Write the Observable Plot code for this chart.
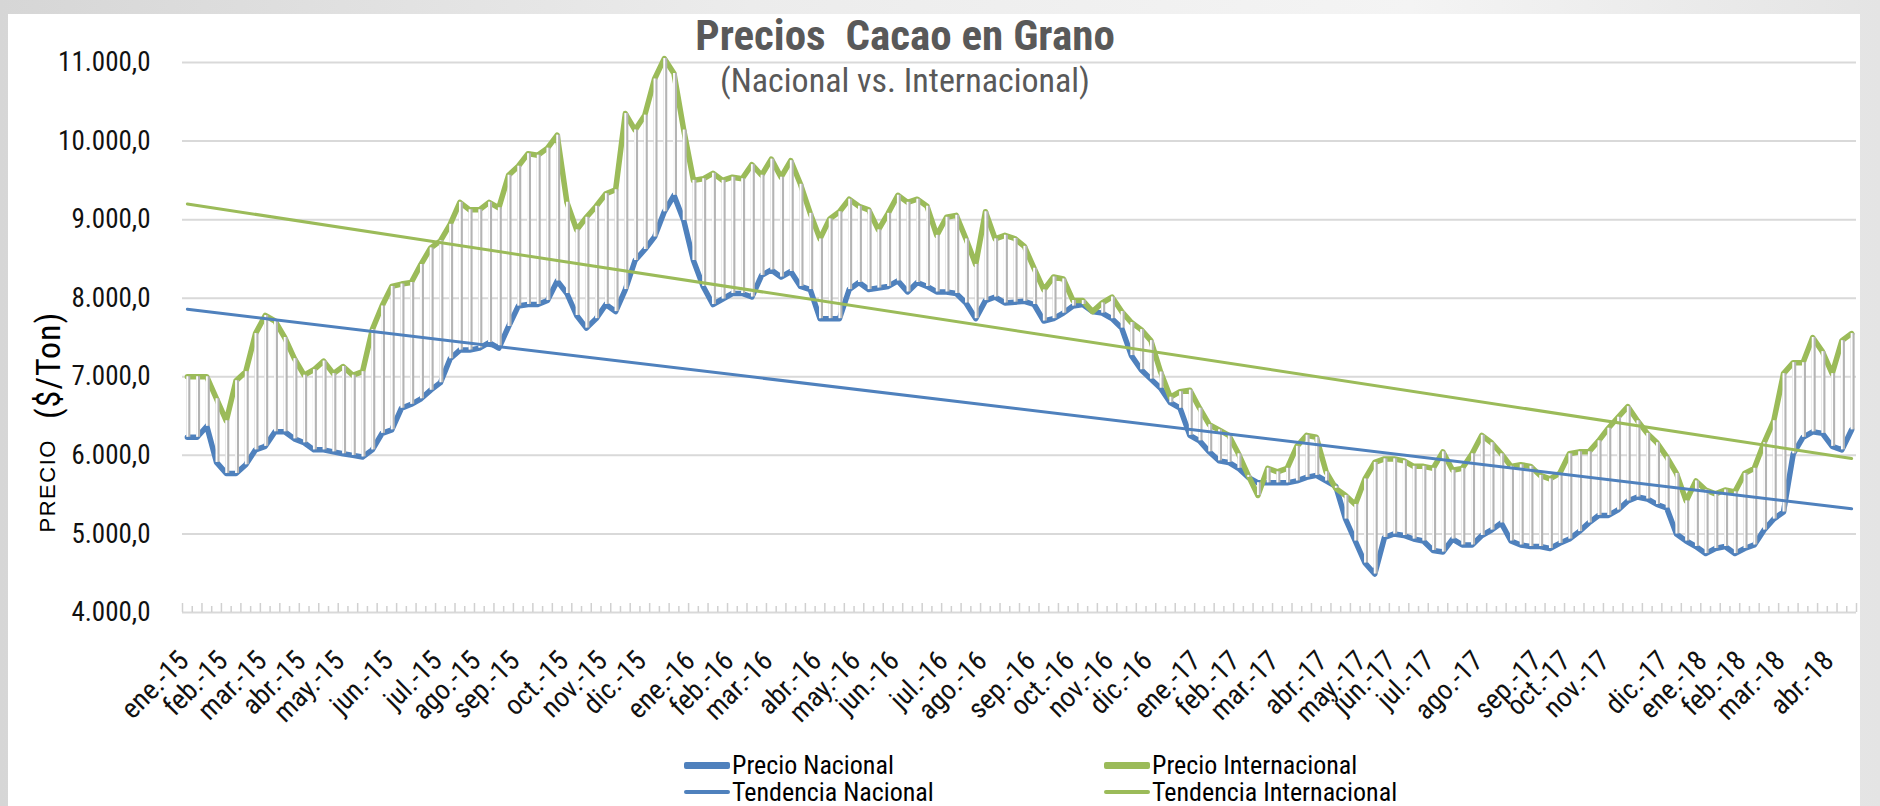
<!DOCTYPE html>
<html>
<head>
<meta charset="utf-8">
<script src="https://cdn.jsdelivr.net/npm/d3@7"></script>
<script src="https://cdn.jsdelivr.net/npm/@observablehq/plot@0.6"></script>
<style>
  html, body { margin: 0; padding: 0; }
  body {
    width: 1880px; height: 806px; overflow: hidden; position: relative;
    background: linear-gradient(to right, #d6d6d6 0%, #ececec 40%, #f4f4f4 75%, #e4e4e4 100%);
    font-family: "Liberation Sans Narrow", "Roboto Condensed", Roboto, sans-serif;
  }
  #card { position: absolute; left: 8px; top: 14px; width: 1852px; height: 792px; background: #fff; }
  #chart { position: absolute; left: 0; top: 0; }
  .title { position: absolute; left: 0; width: 1810px; text-align: center; color: #595959; white-space: pre; }
  #t1 { top: 10px; font-size: 43px; font-weight: bold; line-height: 50px; }
  #t2 { top: 60px; font-size: 34px; line-height: 40px; }
  #ylab { position: absolute; left: 48px; top: 422px; transform: translate(-50%, -50%) rotate(-90deg);
          white-space: pre; color: #000; display: flex; align-items: center; }
  #ylab .a { font-family: "Liberation Sans", Arial, sans-serif; font-size: 22px; letter-spacing: 1.5px; }
  #ylab .b { font-family: "Liberation Sans Narrow", "Roboto Condensed", sans-serif; font-size: 34px; letter-spacing: 1px; margin-left: 20px; }
  .leg { position: absolute; display: flex; align-items: center; font-size: 26px; line-height: 24px; height: 24px; color: #000; white-space: nowrap; }
  .sw { display: inline-block; width: 46px; margin-right: 2px; }
</style>
</head>
<body>
<div id="card"></div>
<div id="chart"></div>
<div class="title" id="t1">Precios  Cacao en Grano</div>
<div class="title" id="t2">(Nacional vs. Internacional)</div>
<div id="ylab"><span class="a">PRECIO</span><span class="b">($/Ton)</span></div>
<div id="legend"></div>
<script>
const precioNacional = [
  6230,6230,6370,5910,5770,5770,5880,6070,6115,6300,6300,6210,6160,6070,6070,6045,6020,6000,5980,6070,
  6280,6325,6600,6650,6720,6830,6925,7230,7340,7340,7365,7435,7365,7640,7900,7920,7920,7970,8220,8060,
  7780,7620,7740,7920,7830,8110,8480,8620,8780,9100,9310,8990,8480,8150,7920,7990,8060,8060,8015,8290,
  8360,8270,8340,8150,8110,7740,7740,7740,8110,8200,8110,8130,8150,8220,8080,8200,8150,8080,8080,8060,
  7940,7740,7970,8015,7940,7950,7960,7920,7710,7740,7810,7900,7920,7830,7810,7740,7620,7270,7090,6970,
  6855,6670,6600,6255,6185,6045,5930,5910,5835,5720,5650,5650,5650,5650,5675,5720,5745,5675,5605,5190,
  4910,4630,4490,4955,5000,4980,4935,4910,4790,4770,4935,4860,4860,4980,5050,5140,4910,4860,4840,4840,
  4815,4880,4935,5030,5140,5235,5235,5305,5420,5470,5445,5375,5330,5000,4910,4840,4750,4815,4840,4750,
  4815,4860,5050,5190,5280,6020,6230,6300,6280,6115,6070,6325
];
const precioInternacional = [
  7000,7000,7000,6720,6440,6950,7065,7550,7780,7710,7500,7230,7020,7090,7200,7040,7130,7020,7065,7600,
  7900,8150,8180,8200,8430,8640,8730,8940,9220,9125,9125,9220,9150,9565,9680,9840,9820,9910,10075,9220,
  8870,9030,9170,9330,9380,10350,10140,10330,10790,11050,10860,10140,9500,9520,9590,9500,9540,9520,9700,9565,
  9770,9540,9750,9450,9080,8755,9010,9100,9260,9170,9125,8870,9080,9310,9220,9260,9170,8800,9030,9055,
  8755,8430,9100,8755,8800,8760,8660,8380,8105,8270,8245,7970,7970,7830,7940,8015,7830,7690,7600,7460,
  7060,6740,6810,6830,6600,6390,6325,6255,6020,5745,5490,5835,5790,5835,6115,6255,6230,5790,5580,5490,
  5375,5700,5910,5955,5955,5930,5860,5860,5835,6045,5810,5835,6020,6255,6160,6020,5860,5880,5860,5745,
  5700,5770,6020,6045,6045,6185,6345,6485,6620,6440,6280,6160,5980,5770,5420,5675,5560,5510,5560,5535,
  5770,5835,6160,6440,7040,7180,7180,7500,7320,7040,7460,7550
];
// linear trend lines: value at first and last observation
const tendenciaNacional = [7860, 5320];
const tendenciaInternacional = [9200, 5960];
// month labels and the observation index where each month starts
const monthLabels = [
  "ene.-15","feb.-15","mar.-15","abr.-15","may.-15","jun.-15","jul.-15","ago.-15","sep.-15","oct.-15","nov.-15","dic.-15",
  "ene.-16","feb.-16","mar.-16","abr.-16","may.-16","jun.-16","jul.-16","ago.-16","sep.-16","oct.-16","nov.-16","dic.-16",
  "ene.-17","feb.-17","mar.-17","abr.-17","may.-17","jun.-17","jul.-17","ago.-17","sep.-17","oct.-17","nov.-17","dic.-17",
  "ene.-18","feb.-18","mar.-18","abr.-18"
];
const monthStart = [0,4,8,12,16,21,26,30,34,39,43,47,52,56,60,65,69,73,78,82,87,91,95,99,104,108,112,117,121,124,128,133,139,142,146,152,156,160,164,169];
const yTicks = [4000,5000,6000,7000,8000,9000,10000,11000];
const seriesNames = ["Precio Nacional","Precio Internacional","Tendencia Nacional","Tendencia Internacional"];

// ---- build tables ----
const N = precioNacional.length;
const rows = d3.range(N).map(i => ({i, nac: precioNacional[i], intl: precioInternacional[i]}));
const trendRows = [
  {i: 0, v: tendenciaNacional[0], s: "nac"}, {i: N - 1, v: tendenciaNacional[1], s: "nac"},
  {i: 0, v: tendenciaInternacional[0], s: "intl"}, {i: N - 1, v: tendenciaInternacional[1], s: "intl"}
];
const labels = monthStart.map((i, k) => ({i, label: monthLabels[k]}));
const majorTicks = d3.range(0, N + 1, 2).map(i => i - 0.5);
const minorTicks = d3.range(1, N, 2).map(i => i - 0.5);

const BLUE = "#4F81BD", GREEN = "#9BBB59";
const fmt = v => d3.format(",.1f")(v).replace(/,/g, "#").replace(".", ",").replace(/#/g, ".");

const W = 1880, H = 740, mTop = 62, mBottom = 128, plotH = H - mTop - mBottom;

const svg = Plot.plot({
  width: W, height: H,
  marginLeft: 182, marginRight: 24, marginTop: mTop, marginBottom: mBottom,
  style: {background: "transparent", fontFamily: '"Liberation Sans Narrow", "Roboto Condensed", Roboto, sans-serif', fontSize: "27px", color: "#000"},
  x: {domain: [-0.5, N - 0.5], axis: null},
  y: {domain: [4000, 11000], axis: null},
  marks: [
    Plot.ruleY(yTicks, {stroke: "#d9d9d9", strokeWidth: 2}),
    Plot.ruleX(majorTicks, {x: d => d, stroke: "#d0d0d0", strokeWidth: 1.5, insetTop: plotH - 9}),
    Plot.ruleX(minorTicks, {x: d => d, stroke: "#d0d0d0", strokeWidth: 1.5, insetTop: plotH - 6}),
    Plot.axisY({ticks: yTicks, tickFormat: fmt, tickSize: 0, tickPadding: 32, fontSize: 27, fill: "#111"}),
    Plot.text(labels, {x: "i", text: "label", frameAnchor: "bottom", rotate: -45, textAnchor: "end", dy: 50, dx: 3, fontSize: 28, fill: "#111"}),
    // shadows of price lines
    Plot.line(rows, {x: "i", y: "nac", stroke: "#444", strokeOpacity: 0.6, strokeWidth: 5.5, dx: 2, dy: 4, ariaLabel: "shadow"}),
    Plot.line(rows, {x: "i", y: "intl", stroke: "#444", strokeOpacity: 0.6, strokeWidth: 5.5, dx: 2, dy: 4, ariaLabel: "shadow"}),
    Plot.line(rows, {x: "i", y: "nac", stroke: BLUE, strokeWidth: 5.5, strokeLinejoin: "round"}),
    Plot.line(rows, {x: "i", y: "intl", stroke: GREEN, strokeWidth: 5.5, strokeLinejoin: "round"}),
    // high-low lines (white with soft gray shadow)
    Plot.ruleX(rows, {x: "i", y1: "nac", y2: "intl", stroke: "#b4b4b4", strokeWidth: 4, dx: 1, ariaLabel: "hlshadow"}),
    Plot.ruleX(rows, {x: "i", y1: "nac", y2: "intl", stroke: "#ffffff", strokeWidth: 1.8}),
    // trend lines
    Plot.line(trendRows, {x: "i", y: "v", z: "s", stroke: d => d.s === "nac" ? BLUE : GREEN, strokeWidth: 3})
  ]
});

// soft blur for shadows
const ns = "http://www.w3.org/2000/svg";
const defs = document.createElementNS(ns, "defs");
defs.innerHTML = '<filter id="blur" x="-5%" y="-5%" width="110%" height="110%"><feGaussianBlur stdDeviation="1.8"/></filter>' +
                 '<filter id="blur2" x="-50%" y="-5%" width="200%" height="110%"><feGaussianBlur stdDeviation="0.8"/></filter>';
svg.insertBefore(defs, svg.firstChild);
svg.querySelectorAll('g[aria-label="shadow"]').forEach(g => g.setAttribute("filter", "url(#blur)"));
svg.querySelectorAll('g[aria-label="hlshadow"]').forEach(g => g.setAttribute("filter", "url(#blur2)"));
document.getElementById("chart").appendChild(svg);

// legend
const legend = document.getElementById("legend");
const legItems = [
  {name: seriesNames[0], color: BLUE, w: 7, x: 684, y: 765},
  {name: seriesNames[2], color: BLUE, w: 3.5, x: 684, y: 792},
  {name: seriesNames[1], color: GREEN, w: 7, x: 1104, y: 765},
  {name: seriesNames[3], color: GREEN, w: 3.5, x: 1104, y: 792}
];
legItems.forEach(it => {
  const d = document.createElement("div");
  d.className = "leg";
  d.style.left = it.x + "px";
  d.style.top = (it.y - 12) + "px";
  d.innerHTML = `<span class="sw" style="height:${it.w}px;background:${it.color};border-radius:2px"></span><span>${it.name}</span>`;
  legend.appendChild(d);
});
</script>
</body>
</html>
